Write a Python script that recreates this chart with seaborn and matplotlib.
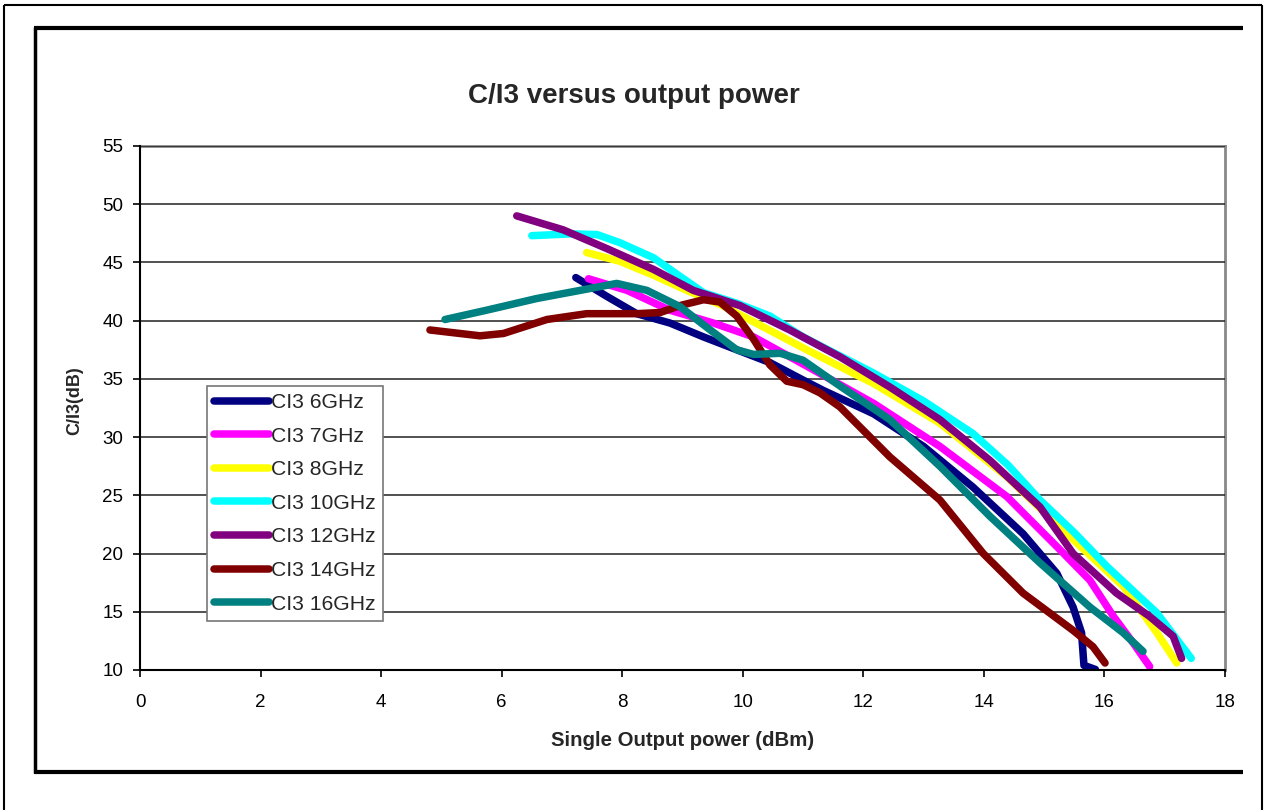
import numpy as np
import pandas as pd
import matplotlib
matplotlib.use("Agg")
import matplotlib.pyplot as plt
from matplotlib.lines import Line2D
import seaborn as sns

# ---- data ----
x_6ghz = [7.23, 7.74, 8.24, 8.79, 9.35, 9.90, 10.45, 11.00, 11.34, 12.17, 13.00, 13.82, 14.65, 15.21, 15.48, 15.62, 15.66, 15.85]
y_6ghz = [43.7, 42.1, 40.6, 39.8, 38.6, 37.5, 36.4, 34.9, 34.0, 32.0, 29.2, 25.7, 21.7, 18.3, 15.4, 13.2, 10.4, 10.05]

x_7ghz = [7.44, 8.08, 8.79, 9.51, 10.18, 11.06, 12.17, 13.27, 14.38, 15.21, 15.76, 16.15, 16.48, 16.75]
y_7ghz = [43.6, 42.6, 40.9, 39.8, 38.6, 36.1, 32.9, 29.2, 24.9, 20.6, 17.7, 14.6, 12.3, 10.3]

x_8ghz = [7.41, 7.96, 8.52, 9.07, 9.62, 10.18, 11.06, 12.17, 13.27, 14.38, 15.48, 16.31, 16.87, 17.20]
y_8ghz = [45.85, 45.1, 43.9, 42.6, 41.4, 39.9, 37.5, 34.6, 31.2, 26.6, 21.2, 17.2, 13.2, 10.6]

x_10ghz = [6.50, 7.14, 7.58, 7.96, 8.52, 8.96, 9.35, 9.90, 10.45, 11.00, 12.17, 13.00, 13.82, 14.40, 14.93, 15.50, 16.04, 16.87, 17.25, 17.44]
y_10ghz = [47.3, 47.45, 47.4, 46.7, 45.4, 43.8, 42.4, 41.5, 40.4, 38.6, 35.5, 33.1, 30.3, 27.6, 24.6, 21.8, 18.9, 14.9, 12.3, 11.0]

x_12ghz = [6.25, 7.02, 7.74, 8.52, 9.18, 9.95, 10.78, 11.61, 12.44, 13.27, 14.10, 14.93, 15.48, 16.20, 16.75, 17.14, 17.28]
y_12ghz = [49.0, 47.8, 46.2, 44.4, 42.6, 41.3, 39.2, 36.9, 34.3, 31.5, 28.0, 24.0, 20.0, 16.6, 14.6, 12.9, 11.0]

x_14ghz = [4.81, 5.64, 6.03, 6.75, 7.41, 8.24, 8.63, 8.96, 9.35, 9.62, 9.90, 10.18, 10.45, 10.73, 11.00, 11.28, 11.61, 12.44, 13.27, 13.99, 14.65, 15.48, 15.81, 16.01]
y_14ghz = [39.2, 38.7, 38.9, 40.1, 40.6, 40.6, 40.7, 41.3, 41.8, 41.6, 40.4, 38.4, 36.2, 34.8, 34.5, 33.8, 32.6, 28.3, 24.6, 20.0, 16.6, 13.4, 12.0, 10.6]

x_16ghz = [5.06, 5.75, 6.58, 7.30, 7.91, 8.41, 8.96, 9.46, 9.90, 10.18, 10.62, 11.00, 11.61, 12.44, 13.27, 14.10, 14.93, 15.76, 16.31, 16.64]
y_16ghz = [40.1, 40.9, 41.9, 42.6, 43.2, 42.6, 41.2, 39.2, 37.5, 37.1, 37.2, 36.6, 34.4, 31.5, 27.5, 23.2, 19.2, 15.4, 13.2, 11.6]

series_names = ["CI3 6GHz", "CI3 7GHz", "CI3 8GHz", "CI3 10GHz", "CI3 12GHz", "CI3 14GHz", "CI3 16GHz"]
series_x = [x_6ghz, x_7ghz, x_8ghz, x_10ghz, x_12ghz, x_14ghz, x_16ghz]
series_y = [y_6ghz, y_7ghz, y_8ghz, y_10ghz, y_12ghz, y_14ghz, y_16ghz]
colors = ["#000080", "#FF00FF", "#FFFF00", "#00FFFF", "#800080", "#800000", "#008080"]

x_ticks = [0, 2, 4, 6, 8, 10, 12, 14, 16, 18]
y_ticks = [10, 15, 20, 25, 30, 35, 40, 45, 50, 55]

frames = []
for name, xs, ys in zip(series_names, series_x, series_y):
    frames.append(pd.DataFrame({"x": xs, "y": ys, "series": name}))
df = pd.concat(frames, ignore_index=True)

# ---- style ----
sns.set_theme(style="white")
plt.rcParams["font.family"] = ["Liberation Sans", "DejaVu Sans"]

W, H = 1264, 810
fig = plt.figure(figsize=(W / 100, H / 100), dpi=100)
ax = fig.add_axes([140 / W, 1 - 670 / H, (1225 - 140) / W, (670 - 146) / H])

sns.lineplot(data=df, x="x", y="y", hue="series", hue_order=series_names,
             palette=colors, sort=False, estimator=None, units="series",
             linewidth=5.4, ax=ax, legend=False)
for ln in ax.get_lines():
    ln.set_solid_capstyle("round")
    ln.set_solid_joinstyle("round")

ax.set_xlim(0, 18)
ax.set_ylim(10, 55)
ax.set_xticks(x_ticks)
ax.set_yticks(y_ticks)
ax.tick_params(axis="both", which="major", direction="out", length=5, width=1.2,
               color="black", labelsize=13.5, labelcolor="black",
               bottom=True, left=True)
ax.tick_params(axis="x", pad=12)
ax.tick_params(axis="y", pad=7)
ax.yaxis.grid(True, color="#222222", linewidth=1.1)
ax.xaxis.grid(False)
ax.set_axisbelow(True)
for side in ["left", "bottom"]:
    ax.spines[side].set_color("black")
    ax.spines[side].set_linewidth(1.5)
for side in ["top", "right"]:
    ax.spines[side].set_color("#888888")
    ax.spines[side].set_linewidth(2)
    ax.spines[side].set_zorder(0.5)

ax.set_xlabel("Single Output power (dBm)", fontsize=14.7, fontweight="bold")
ax.set_ylabel("C/I3(dB)", fontsize=13, fontweight="bold")
ax.xaxis.set_label_coords(0.5, (670 - 741) / 524)
ax.xaxis.label.set_va("center")
ax.yaxis.set_label_coords((75 - 140) / 1085, 0.515)
ax.yaxis.label.set_va("center")

fig.text(634 / W, 1 - 96 / H, "C/I3 versus output power", fontsize=20,
         fontweight="bold", ha="center", va="center")

handles = [Line2D([0], [0], color=c, linewidth=5.4, solid_capstyle="round") for c in colors]
leg = fig.legend(handles, series_names, loc="upper left",
                 bbox_to_anchor=(207 / W, 1 - 386 / H), bbox_transform=fig.transFigure,
                 fontsize=15.2, frameon=True, fancybox=False, borderaxespad=0,
                 handlelength=2.6, handletextpad=0.1, labelspacing=0.69,
                 borderpad=0.34)
leg.get_frame().set_edgecolor("#777777")
leg.get_frame().set_linewidth(1.2)
leg.get_frame().set_facecolor("white")
leg.get_frame().set_alpha(1)

# ---- chart-area frames ----
def fline(x0, y0, x1, y1, lw, color="black"):
    fig.add_artist(Line2D([x0 / W, x1 / W], [1 - y0 / H, 1 - y1 / H],
                          transform=fig.transFigure, color=color, linewidth=lw,
                          solid_capstyle="butt"))

# outer thin frame (left, top, right)
fline(4, 5, 4, 810, 1.5)
fline(4, 5, 1262, 5, 1.5)
fline(1262, 5, 1262, 810, 1.5)
# inner box (left, top, bottom)
fline(35, 27, 35, 773, 2.5)
fline(34, 27.5, 1243, 27.5, 3)
fline(34, 772, 1243, 772, 3)

fig.savefig("out.png", dpi=100)
